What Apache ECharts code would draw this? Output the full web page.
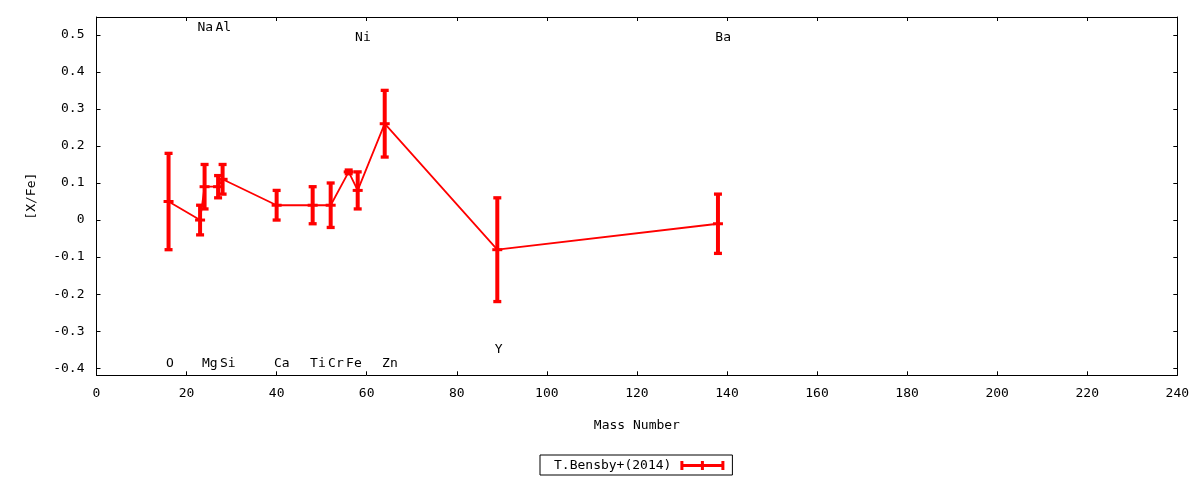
<!DOCTYPE html>
<html>
<head>
<meta charset="utf-8">
<script src="https://cdn.jsdelivr.net/npm/echarts@6/dist/echarts.min.js"></script>
<style>
html,body{margin:0;padding:0;background:#fff;}
#chart{width:1200px;height:480px;}
</style>
</head>
<body>
<div id="chart"></div>
<script>
// ---- data ----
var elements = ['O','Na','Mg','Al','Si','Ca','Ti','Cr','Fe','Ni','Zn','Y','Ba'];
var massNumber = [16, 23, 24, 27, 28, 40, 48, 52, 56, 58, 64, 89, 138];
var xfe = [0.05, 0.00, 0.09, 0.09, 0.11, 0.04, 0.04, 0.04, 0.13, 0.08, 0.26, -0.08, -0.01];
var xfeErr = [0.13, 0.04, 0.06, 0.03, 0.04, 0.04, 0.05, 0.06, 0.005, 0.05, 0.09, 0.14, 0.08];
// label anchor level (in [X/Fe] units) as placed on the original plot
var labelLevel = [-0.387, 0.518, -0.387, 0.518, -0.387, -0.387, -0.387, -0.387, -0.387, 0.492, -0.35, -0.35, 0.492];
labelLevel[10] = -0.387;
var yTicks = [-0.4, -0.3, -0.2, -0.1, 0, 0.1, 0.2, 0.3, 0.4, 0.5];
var seriesName = 'T.Bensby+(2014)';

var FONT = '"DejaVu Sans Mono", monospace';
var RED = '#ff0000';

var lineData = massNumber.map(function (m, i) { return [m, xfe[i]]; });
var errData = massNumber.map(function (m, i) { return [m, xfe[i], xfeErr[i]]; });
var labelData = massNumber.map(function (m, i) { return [m, labelLevel[i], elements[i]]; });

var chart = echarts.init(document.getElementById('chart'));

var tickStyle = { show: true, inside: true, length: 4, lineStyle: { color: '#000', width: 1 } };
var axisLine = { show: true, onZero: false, lineStyle: { color: '#000', width: 1 } };

var option = {
  animation: false,
  backgroundColor: '#fff',
  textStyle: { fontFamily: FONT },
  grid: { left: 96.5, right: 22.7, top: 17, bottom: 104.7, containLabel: false },
  legend: {
    show: true,
    left: 540,
    top: 455,
    align: 'right',
    orient: 'horizontal',
    borderColor: '#000',
    borderWidth: 1,
    borderRadius: 0,
    padding: [4, 8, 3, 14],
    itemGap: 0,
    itemWidth: 44,
    itemHeight: 9,
    selectedMode: false,
    textStyle: { fontFamily: FONT, fontSize: 13, color: '#000', padding: [0, 4, 0, 0] },
    data: [{
      name: seriesName,
      icon: 'path://M0,3H44V6H0Z M0,0H3V9H0Z M41,0H44V9H41Z M20.5,0H23.5V9H20.5Z',
      itemStyle: { color: RED }
    }]
  },
  xAxis: [{
    type: 'value', position: 'bottom', min: 0, max: 240, interval: 20,
    axisLine: axisLine, axisTick: tickStyle, splitLine: { show: false },
    axisLabel: { color: '#000', fontFamily: FONT, fontSize: 13, margin: 12 },
    name: 'Mass Number', nameLocation: 'middle', nameGap: 44,
    nameTextStyle: { color: '#000', fontFamily: FONT, fontSize: 13 }
  }, {
    type: 'value', position: 'top', min: 0, max: 240, interval: 20,
    axisLine: axisLine, axisTick: tickStyle, splitLine: { show: false },
    axisLabel: { show: false }
  }],
  yAxis: [{
    type: 'value', position: 'left', min: -0.419, max: 0.548,
    axisLine: axisLine,
    axisTick: Object.assign({}, tickStyle, { customValues: yTicks }),
    splitLine: { show: false },
    axisLabel: {
      color: '#000', fontFamily: FONT, fontSize: 13, margin: 12,
      customValues: yTicks,
      formatter: function (v) { return String(Math.round(v * 10) / 10); }
    },
    name: '[X/Fe]', nameLocation: 'middle', nameGap: 58, nameRotate: 90,
    nameTextStyle: { color: '#000', fontFamily: FONT, fontSize: 13 }
  }, {
    type: 'value', position: 'right', min: -0.419, max: 0.548,
    axisLine: axisLine,
    axisTick: Object.assign({}, tickStyle, { customValues: yTicks }),
    splitLine: { show: false },
    axisLabel: { show: false, customValues: yTicks }
  }],
  series: [{
    name: seriesName,
    type: 'line',
    xAxisIndex: 0, yAxisIndex: 0,
    data: lineData,
    symbol: 'none',
    color: RED,
    lineStyle: { color: RED, width: 1.8 },
    z: 2
  }, {
    name: seriesName,
    type: 'custom',
    xAxisIndex: 0, yAxisIndex: 0,
    data: errData,
    color: RED,
    encode: { x: 0, y: [1] },
    z: 3,
    renderItem: function (params, api) {
      var m = api.value(0), v = api.value(1), e = api.value(2);
      var top = api.coord([m, v + e]);
      var bot = api.coord([m, v - e]);
      var mid = api.coord([m, v]);
      var capW = 4, midW = 5;
      var bar = { stroke: RED, lineWidth: 4, fill: null };
      var cap = { stroke: RED, lineWidth: 3.3, fill: null };
      return {
        type: 'group',
        children: [
          { type: 'line', shape: { x1: top[0], y1: top[1], x2: bot[0], y2: bot[1] }, style: bar },
          { type: 'line', shape: { x1: top[0] - capW, y1: top[1], x2: top[0] + capW, y2: top[1] }, style: cap },
          { type: 'line', shape: { x1: bot[0] - capW, y1: bot[1], x2: bot[0] + capW, y2: bot[1] }, style: cap },
          { type: 'line', shape: { x1: mid[0] - midW, y1: mid[1], x2: mid[0] + midW, y2: mid[1] }, style: { stroke: RED, lineWidth: 3, fill: null } }
        ]
      };
    }
  }, {
    name: 'labels',
    type: 'custom',
    xAxisIndex: 0, yAxisIndex: 0,
    data: labelData,
    encode: { x: 0, y: 1 },
    z: 4,
    silent: true,
    renderItem: function (params, api) {
      var p = api.coord([api.value(0), api.value(1)]);
      return {
        type: 'text',
        x: p[0] - 2.6,
        y: p[1],
        style: {
          text: labelData[params.dataIndex][2],
          fill: '#000',
          font: '13px ' + FONT,
          align: 'left',
          verticalAlign: 'middle'
        }
      };
    }
  }]
};

chart.setOption(option);
</script>
</body>
</html>
